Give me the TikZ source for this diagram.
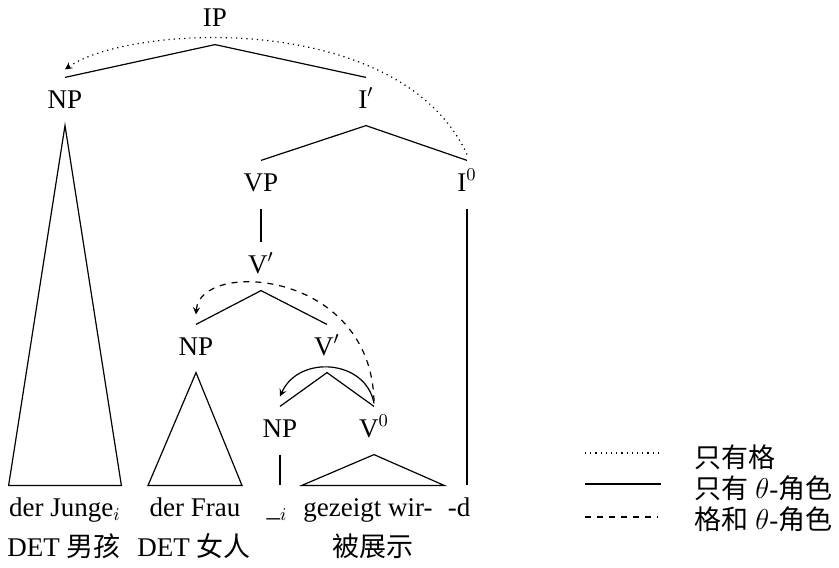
\documentclass[tikz,border=0pt]{standalone}
\usepackage{fontspec}
\setmainfont{Liberation Serif}
\newfontfamily\cjk{Noto Sans CJK SC}
\usepackage{tikz}
\usetikzlibrary{arrows,positioning,calc}
\tikzset{>=stealth}
\tikzset{
	cat/.style={inner xsep=0pt, inner ysep=5.5pt, text height=9.5pt, text depth=3pt, anchor=base},
	word/.style={cat},
	gloss/.style={inner sep=0pt, anchor=base},
	key/.style={inner sep=0pt, anchor=west}
}

\begin{document}
\begin{tikzpicture}[x=0.5pt, y=-0.5pt, line width=0.6pt, font=\fontsize{13.5pt}{16.5pt}\selectfont]
		\useasboundingbox (0,0) rectangle (839,567);
		% categories
		\node[cat] (IP) at (215,27) {IP};
		\node[cat] (NPa) at (65,108) {NP};
		\node[cat] (Ibar) at (366,108) {I$'$};
		\node[cat] (VP) at (261,191) {VP};
		\node[cat] (I0) at (467,191) {I$^0$};
		\node[cat] (Vbar) at (261,273) {V$'$};
		\node[cat] (NPb) at (196,355) {NP};
		\node[cat] (Vbarb) at (327,355) {V$'$};
		\node[cat] (NPc) at (280,437) {NP};
		\node[cat] (V0) at (374,437) {V$^0$};
		% words
		\node[word] (junge) at (65,516) {der Junge$_i$};
		\node[word] (frau) at (195,516) {der Frau};
		\node[word] (trace) at (277,516) {\_$_i$};
		\node[word] (gezeigt) at (368,516) {gezeigt wir-};
		\node[word] (d) at (459,516) {-d};
		\node[gloss] (gjunge) at (64,556) {DET {\cjk 男孩}};
		\node[gloss] (gfrau) at (194,556) {DET {\cjk 女人}};
		\node[gloss] (ggezeigt) at (373,556) {\cjk 被展示};
		% branches
		\draw (NPa.north) -- (IP.south) -- (Ibar.north);
		\draw (VP.north) -- (Ibar.south) -- (I0.north);
		\draw (VP.south) -- (Vbar.north);
		\draw (NPb.north) -- (Vbar.south) -- (Vbarb.north);
		\draw (NPc.north) -- (Vbarb.south) -- (V0.north);
		\draw (NPc.south) -- (NPc.south |- trace.north);
		\draw (I0.south) -- (I0.south |- d.north);
		% triangles
		\draw (NPa.south) -- (junge.north west) -- (junge.north east) -- cycle;
		\draw (NPb.south) -- ([xshift=-0.5pt]frau.north west) -- ([xshift=0.5pt]frau.north east) -- cycle;
		\draw (V0.south) -- ([xshift=-0.5pt]gezeigt.north west) -- ([xshift=5.5pt]gezeigt.north east) -- cycle;
		% movements
		\draw[->, dotted] ([yshift=3pt]I0.north) .. controls +(-67,-145) and +(64,-45) .. ([yshift=4pt]NPa.north);
		\draw[->, dashed] ([yshift=2.5pt]V0.north) .. controls +(-3,-132) and +(4,-55) .. ([yshift=5pt]NPb.north);
		\draw[->] ([yshift=1.5pt]V0.north) .. controls +(-8,-44) and +(19,-42) .. ([yshift=5pt]NPc.north);
		% legend
		\coordinate (k1a) at (585,453);
		\coordinate (k1b) at (658,453);
		\coordinate (k2a) at (585,484);
		\coordinate (k2b) at (661,484);
		\coordinate (k3a) at (585,517);
		\coordinate (k3b) at (658,517);
		\draw[dotted] (k1a) -- (k1b);
		\draw (k2a) -- (k2b);
		\draw[dashed] (k3a) -- (k3b);
		\node[key] (t1) at (694,457) {\cjk 只有格};
		\node[key] (t2) at (694,488) {{\cjk 只有} $\theta$-{\cjk 角色}};
		\node[key] (t3) at (694,519) {{\cjk 格和} $\theta$-{\cjk 角色}};
	\end{tikzpicture}
\end{document}
